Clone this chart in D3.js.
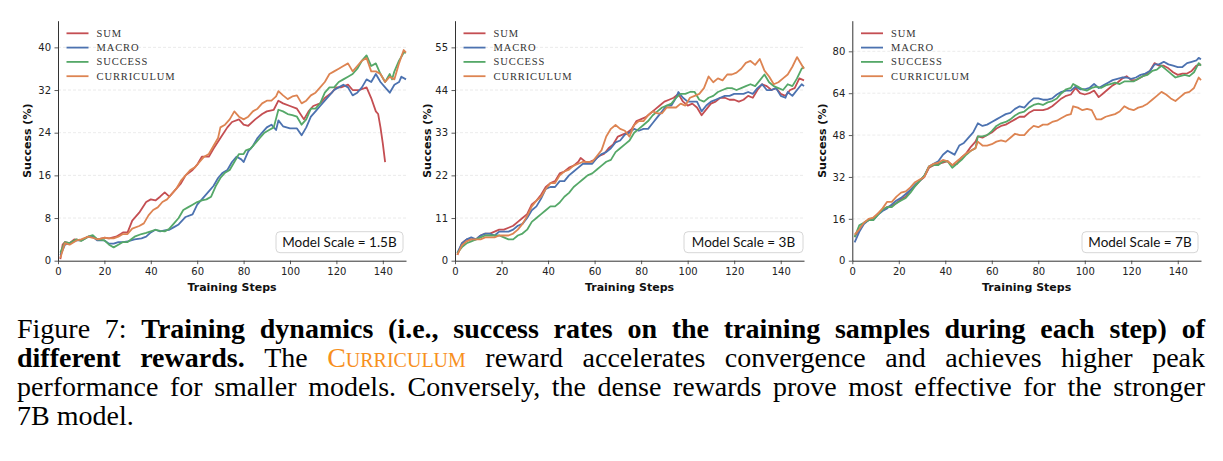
<!DOCTYPE html>
<html>
<head>
<meta charset="utf-8">
<script src="https://cdn.jsdelivr.net/npm/d3@7"></script>
<style>
  body { margin: 0; background: #fff; }
  svg { display: block; }
</style>
</head>
<body>
<svg id="fig" width="1223" height="461"></svg>
<script>
const seriesNames = ["SUM", "MACRO", "SUCCESS", "CURRICULUM"];
const seriesColors = ["#c44e52", "#4c72b0", "#55a868", "#dd8452"];
const xTicks = [0, 20, 40, 60, 80, 100, 120, 140];
const scaleLabels = ["Model Scale = 1.5B", "Model Scale = 3B", "Model Scale = 7B"];

// ---- 1.5B : [step, success %]
const ticks15 = [0, 8, 16, 24, 32, 40];
const sum15 = [[1,0.3],[2,3],[3,3.5],[5,3.3],[7,4],[10,3.8],[13,4.5],[15,4.5],[17,4],[20,4.3],[22,4.2],[25,4.5],[27,5],[28,5.3],[30,5.3],[32,7.5],[35,9],[38,11],[40,11.5],[42,11.3],[44,12],[46,12.8],[48,12],[50,13],[53,14.5],[55,16],[58,17],[60,18],[62,19.5],[65,19.5],[67,21],[70,23],[73,25],[75,26],[78,26.5],[80,25.5],[82,25.3],[85,26.5],[88,27.5],[90,28],[93,28.3],[95,30],[97,29.5],[100,29],[103,28.5],[106,26.5],[108,28],[110,29],[113,29.5],[115,30.5],[118,31.5],[120,32.5],[122,32.5],[125,33],[127,32],[130,32],[133,32.5],[135,30.5],[137,28],[138,27.5],[139,25],[140,22],[141,18.5]];
const macro15 = [[1,1],[3,3],[5,3.3],[8,3.8],[10,3.8],[13,4.5],[15,4.5],[17,3.8],[20,3.8],[22,3.2],[24,3.2],[26,3.5],[28,3.5],[30,3.6],[33,4],[36,4.2],[38,4.5],[40,5.3],[42,5.8],[44,5.5],[46,5.7],[48,5.8],[50,6.3],[52,6.8],[55,8.2],[58,8.7],[60,10.5],[62,11.5],[65,13],[67,14],[69,15.5],[71,16.5],[73,17],[75,18.5],[77,19.5],[79,19],[80,18.5],[82,20.5],[84,21.5],[86,23],[88,24],[90,25],[92,25.5],[94,24.5],[95,26.3],[97,25.2],[100,24.8],[103,24.8],[105,23.5],[107,25],[109,27],[111,28],[113,29],[115,30],[117,31],[119,32],[121,32.5],[123,33],[125,32.5],[127,31],[129,31.5],[131,32.5],[133,34],[135,33.5],[137,35],[139,33.5],[141,32.5],[143,31.5],[145,33],[147,33.5],[148,34.5],[150,34]];
const success15 = [[1,1.5],[3,3.5],[5,3.3],[8,4],[10,3.7],[13,4.5],[15,4.8],[17,4],[20,3.8],[22,3],[24,2.5],[26,3],[28,3.5],[30,3.5],[33,4.5],[36,5],[38,5.2],[40,5.5],[42,5.8],[44,5.6],[46,5.5],[48,6],[50,7],[52,8],[54,9.5],[56,10],[58,10.5],[60,11],[62,11.3],[64,11.5],[66,12],[68,14],[70,15.5],[72,16.5],[74,17],[76,18.5],[78,20],[80,20],[81,20.7],[83,21],[85,22],[87,23],[89,24],[91,24.5],[93,25],[95,28.3],[97,28],[99,27.5],[101,27.3],[103,27],[105,25.5],[107,26.5],[109,28.5],[111,28.5],[113,29.5],[115,31.5],[117,32.5],[119,32.5],[121,33.5],[123,34],[125,34.5],[127,35],[129,36],[131,37.5],[133,38.5],[135,36.5],[137,37],[139,35],[141,33.5],[143,35],[144,34],[145,35.5],[147,37.5],[149,39],[150,39]];
const curriculum15 = [[1,0.5],[3,3.3],[5,3],[8,3.8],[10,4],[13,4.5],[15,4.3],[17,4],[20,4.3],[22,4.2],[24,4.2],[26,4.5],[28,5],[30,5],[32,6],[35,6.5],[37,7],[39,8.5],[41,9.5],[43,10],[45,11],[47,11.5],[49,12.5],[51,13.5],[53,15],[55,16],[57,17],[59,17.5],[61,18.5],[63,19.5],[65,20],[67,21.5],[69,23],[70,25],[72,25.5],[74,26.5],[76,28],[78,27],[80,26.5],[82,27],[84,28],[86,28.5],[88,29.5],[90,30],[92,30],[94,30.8],[95,31.8],[97,31],[99,30.3],[101,30.8],[103,31],[105,29.5],[107,30],[109,31],[111,31.5],[113,32.5],[115,33.5],[117,35],[119,35.5],[121,36],[123,36.5],[125,37],[127,35.5],[129,36.5],[131,37.5],[133,38],[135,35.5],[137,35.5],[139,35],[141,33.5],[143,34.5],[145,34],[147,37],[149,39.5],[150,39]];

// ---- 3B
const ticks3 = [0, 11, 22, 33, 44, 55];
const sum3 = [[1,1.5],[3,4.5],[5,5.5],[7,5.5],[9,5.5],[11,6.5],[13,7],[15,7],[17,7.5],[19,8],[21,8],[23,8.5],[25,9],[27,10],[29,11],[31,12],[33,14.5],[35,15.5],[37,17],[39,19],[41,20],[43,20.5],[45,22.5],[47,23],[49,24],[51,24.5],[53,25.5],[54,26.5],[56,25.5],[58,25.5],[60,26],[62,27],[64,27.5],[66,29],[68,30],[70,32],[72,32.5],[74,33],[76,34],[78,36],[80,36.5],[82,37],[84,38],[86,39],[88,40],[90,41],[92,41.5],[94,42],[96,43],[98,41],[100,40],[102,40.5],[104,39.5],[106,37.5],[108,39],[110,40.5],[112,41],[114,42],[116,42],[118,41.5],[120,41.5],[122,41],[124,41.5],[126,42.5],[128,42],[130,44],[132,45.5],[134,45],[136,44],[138,44.5],[140,43],[142,42.5],[144,44],[146,44.5],[148,47],[150,46.5]];
const macro3 = [[1,2],[3,4.5],[5,5.5],[7,6],[9,5.5],[11,6.5],[13,7],[15,7],[17,6.5],[19,7.5],[21,7.5],[23,7.5],[25,8],[27,9],[29,9.5],[31,11],[33,13],[35,14],[37,16],[39,18.5],[41,19],[43,19],[45,20.5],[47,20.5],[49,22],[51,23],[53,24],[55,25],[57,25],[59,25],[61,26.5],[63,27.5],[65,28],[67,29],[69,30.5],[71,31],[73,32.5],[75,33],[77,34],[79,33.5],[81,34],[83,34],[85,35.5],[87,37],[89,38.5],[91,40],[93,40],[95,42],[96,43.5],[98,42],[100,41],[102,41],[104,41],[106,38.5],[108,40],[110,41],[112,41.5],[114,42],[116,42.5],[118,42.5],[120,43],[122,43],[124,43],[126,43.5],[128,43],[130,44.5],[132,45.5],[134,44],[136,44],[138,44.5],[140,42.5],[142,42],[143,43.5],[145,42.5],[147,44],[149,45.5],[150,45]];
const success3 = [[1,2],[3,3.5],[5,4.5],[7,5],[9,5.5],[11,6],[13,6.5],[15,6.5],[17,6.5],[19,6.5],[21,6],[23,5.5],[25,5.5],[27,6.5],[29,7],[31,8],[33,10],[35,11],[37,12],[39,13],[41,14],[43,14],[45,15],[47,16.5],[49,17.5],[51,19],[53,20],[55,21],[57,22],[59,22.5],[61,23.5],[63,24.5],[65,25.5],[67,26],[69,28],[71,29],[73,30],[75,31],[77,33],[79,34],[81,35],[83,36],[85,37.5],[87,38.5],[89,39.5],[91,40],[93,40.5],[95,42],[97,43],[99,43],[101,43.5],[103,43.5],[105,41.5],[107,41],[109,42],[111,42.5],[113,43.5],[115,44],[117,44.5],[119,44.5],[121,44],[123,44.5],[125,45],[127,45.5],[129,45],[131,46.5],[133,48],[135,46],[137,45],[139,44.5],[141,44],[143,45.5],[145,45],[147,47],[149,49.5],[150,50]];
const curriculum3 = [[1,1.5],[3,4],[5,5],[7,5.5],[9,5.5],[11,5.5],[13,6],[15,6],[17,6],[19,6.5],[21,6.5],[23,6.5],[25,7],[27,8],[29,9.5],[31,11.5],[33,14],[35,15.5],[37,16.5],[39,18.5],[41,20],[43,20],[45,22],[47,23],[49,23.5],[51,24.5],[53,25],[55,25.5],[57,25.5],[59,25.5],[61,27],[63,28.5],[65,32],[67,34],[69,35],[71,34],[73,33.5],[75,32],[77,35],[79,36],[81,36],[83,37.5],[85,38.5],[87,38],[89,38],[91,39.5],[93,39.5],[95,39.5],[97,40.5],[99,40],[101,42],[103,42.5],[105,43],[107,44.5],[109,47.5],[111,46],[113,47],[115,46.5],[117,48],[119,48],[121,48.5],[123,49.5],[125,51],[127,51.5],[129,50.5],[131,52],[133,49],[135,47.5],[137,45.5],[139,46],[141,47],[143,48],[145,50],[147,52.5],[148,51.5],[150,49.5]];

// ---- 7B
const ticks7 = [0, 16, 32, 48, 64, 80];
const sum7 = [[1,9],[3,12],[5,14.5],[7,15.5],[9,16],[11,18],[13,19.5],[15,20.5],[17,21],[19,22],[21,23.5],[23,24.5],[25,27],[27,28.5],[29,30.5],[31,32],[33,35.5],[35,36.5],[37,37],[39,37.5],[41,38],[43,36.5],[45,37],[47,39.5],[49,41],[51,43.5],[53,45.5],[54,47.5],[56,47],[58,48],[60,49],[62,50.5],[64,51.5],[66,52],[68,53],[70,54],[72,55],[74,55],[76,56.5],[78,57.5],[80,57.5],[82,57.5],[84,58],[86,59],[88,60.5],[90,62],[92,63],[94,63.5],[96,66],[98,64],[100,63.5],[102,64],[104,65],[106,62.5],[108,64],[110,65.5],[112,67],[114,68],[116,69.5],[118,70.5],[120,69],[122,69],[124,70],[126,71],[128,72.5],[130,75.5],[132,74.5],[134,74.5],[136,73.5],[138,72],[140,71],[142,71.5],[144,71.5],[146,72.5],[148,74.5],[150,75]];
const macro7 = [[1,7],[3,11],[5,14],[7,15.5],[9,15.5],[11,17.5],[13,19],[15,20],[17,21.5],[19,23],[21,24],[23,25.5],[25,27],[27,29],[29,30.5],[31,32.5],[33,36],[35,37],[37,38],[39,40.5],[41,42],[43,41],[44,40.5],[46,44],[48,45],[50,47],[52,49],[54,52.5],[56,51.5],[58,52],[60,53],[62,54],[64,55],[66,56],[68,56.5],[70,58],[72,59],[74,58.5],[76,60.5],[78,62],[80,62],[82,61.5],[84,61.5],[86,62],[88,63.5],[90,64.5],[92,65],[94,65],[96,66.5],[98,65.5],[100,65.5],[102,66],[104,67.5],[106,66],[108,67],[110,68],[112,69],[114,69.5],[116,70],[118,70],[120,69.5],[122,70],[124,71],[126,71.5],[128,72.5],[130,75],[132,75],[134,76],[136,75],[138,74.5],[140,74],[142,74],[144,75.5],[146,76],[148,76.5],[149,77.5],[150,77]];
const success7 = [[1,9],[3,13.5],[5,14.5],[7,15.5],[9,15.5],[11,17.5],[13,19.5],[15,20.5],[17,20.5],[19,22],[21,23],[23,24],[25,26],[27,28.5],[29,30.5],[31,32.5],[33,36],[35,36.5],[37,36.5],[39,38],[41,38],[43,35.5],[45,37],[47,38.5],[49,40.5],[51,42],[53,43],[54,47.5],[56,47.5],[58,48],[60,49.5],[62,51.5],[64,52.5],[66,53],[68,54],[70,55.5],[72,56.5],[74,57],[76,58.5],[78,59.5],[80,60],[82,59.5],[84,60.5],[86,61],[88,62],[90,64],[92,65.5],[94,66],[95,67.5],[97,66.5],[99,65.5],[101,65],[103,66],[105,66.5],[107,66],[109,67],[111,67.5],[113,68],[115,67.5],[117,68.5],[119,68.5],[121,68.5],[123,69.5],[125,70.5],[127,71],[129,72.5],[131,73],[133,74.5],[135,73],[137,71.5],[139,70],[141,70.5],[143,71],[145,70.5],[147,72],[149,75.5],[150,74.5]];
const curriculum7 = [[1,10],[3,12],[5,14.5],[7,16],[9,16.5],[11,18],[13,20],[15,22.5],[17,22.5],[19,24.5],[21,26],[23,26.5],[25,28],[27,30],[29,31],[31,32],[33,36],[35,37],[37,37.5],[39,38.5],[41,38],[43,36.5],[45,38],[47,39.5],[49,41],[51,42],[53,43],[54,45.5],[56,44],[58,44],[60,44.5],[62,45.5],[64,46],[66,45.5],[68,47],[70,48.5],[72,48],[74,48],[76,50],[78,51.5],[80,51],[82,52],[84,52],[86,53],[88,53.5],[90,54.5],[92,55.5],[94,56],[95,59],[97,58.5],[99,57.5],[101,58],[103,57.5],[105,54],[107,54],[109,55],[111,55.5],[113,56],[115,57],[117,59],[119,58],[121,57.5],[123,58.5],[125,59],[127,60],[129,61.5],[131,63],[133,64.5],[135,63.5],[137,62],[139,61],[141,62.5],[143,64],[145,64.5],[147,66],[149,70],[150,69]];

const panels = [
  { left: 58, right: 406, yMax: 45, ticks: ticks15, data: [sum15, macro15, success15, curriculum15], label: scaleLabels[0], yLabelX: 31, legendX: 66.5, box: [276, 403] },
  { left: 455, right: 804, yMax: 61.875, ticks: ticks3, data: [sum3, macro3, success3, curriculum3], label: scaleLabels[1], yLabelX: 431, legendX: 463.5, box: [684, 803] },
  { left: 852.3, right: 1201, yMax: 91.7, ticks: ticks7, data: [sum7, macro7, success7, curriculum7], label: scaleLabels[2], yLabelX: 826, legendX: 861, box: [1082, 1198] },
];
const plotTop = 20.7, plotBottom = 260.7;

const svg = d3.select("#fig");
svg.append("rect").attr("width", 1223).attr("height", 461).attr("fill", "#fff");

panels.forEach((p) => {
  const g = svg.append("g");
  const x = d3.scaleLinear().domain([0, 150]).range([p.left, p.right]);
  const y = d3.scaleLinear().domain([0, p.yMax]).range([plotBottom, plotTop]);

  g.append("g")
    .selectAll("line")
    .data(p.ticks.filter((t) => t > 0))
    .join("line")
    .attr("x1", p.left).attr("x2", p.right)
    .attr("y1", (t) => y(t)).attr("y2", (t) => y(t))
    .attr("stroke", "#e6e6e6").attr("stroke-width", 0.8).attr("stroke-dasharray", "3,2");

  const xAxis = g.append("g").attr("transform", `translate(0,${plotBottom})`)
    .call(d3.axisBottom(x).tickValues(xTicks).tickSize(3.5).tickSizeOuter(0).tickPadding(3.5));
  const yAxis = g.append("g").attr("transform", `translate(${p.left},0)`)
    .call(d3.axisLeft(y).tickValues(p.ticks).tickSize(3.5).tickSizeOuter(0).tickPadding(3.5));
  [xAxis, yAxis].forEach((a) => {
    a.selectAll("path.domain").attr("stroke", "#333").attr("stroke-width", 1);
    a.selectAll(".tick line").attr("stroke", "#333").attr("stroke-width", 0.8);
    a.selectAll(".tick text").attr("fill", "#222").attr("font-family", "DejaVu Sans, sans-serif").attr("font-size", 10);
  });

  g.append("text")
    .attr("x", (p.left + p.right) / 2).attr("y", 291)
    .attr("text-anchor", "middle")
    .attr("font-family", "DejaVu Sans, sans-serif").attr("font-weight", "bold").attr("font-size", 11)
    .attr("fill", "#111")
    .text("Training Steps");
  g.append("text")
    .attr("transform", `translate(${p.yLabelX},${(plotTop + plotBottom) / 2}) rotate(-90)`)
    .attr("text-anchor", "middle")
    .attr("font-family", "DejaVu Sans, sans-serif").attr("font-weight", "bold").attr("font-size", 11)
    .attr("fill", "#111")
    .text("Success (%)");

  const line = d3.line().x((d) => x(d[0])).y((d) => y(d[1]));
  p.data.forEach((values, i) => {
    g.append("path")
      .datum(values)
      .attr("d", line)
      .attr("fill", "none")
      .attr("stroke", seriesColors[i])
      .attr("stroke-width", 1.8)
      .attr("stroke-linejoin", "round");
  });

  const legend = g.append("g");
  seriesNames.forEach((name, i) => {
    const ly = 33.3 + i * 14.3;
    legend.append("line")
      .attr("x1", p.legendX).attr("x2", p.legendX + 22)
      .attr("y1", ly).attr("y2", ly)
      .attr("stroke", seriesColors[i]).attr("stroke-width", 1.8);
    legend.append("text")
      .attr("x", p.legendX + 30).attr("y", ly + 3.5)
      .attr("font-family", "Liberation Serif, serif").attr("font-size", 10.5)
      .style("letter-spacing", "0.9px")
      .attr("fill", "#333")
      .text(name);
  });

  g.append("rect")
    .attr("x", p.box[0]).attr("y", 231.7)
    .attr("width", p.box[1] - p.box[0]).attr("height", 21)
    .attr("rx", 4)
    .attr("fill", "#fff").attr("fill-opacity", 0.8)
    .attr("stroke", "#cccccc").attr("stroke-width", 0.8);
  g.append("text")
    .attr("x", (p.box[0] + p.box[1]) / 2).attr("y", 246.7)
    .attr("text-anchor", "middle")
    .attr("font-family", "Lato, sans-serif").attr("font-size", 13.5)
    .attr("fill", "#111")
    .text(p.label);
});

// caption, justified by hand
const captionLines = [
  [["Figure 7:", "n"], ["Training dynamics (i.e., success rates on the training samples during each step) of", "b"]],
  [["different rewards.", "b"], ["The", "n"], ["Curriculum", "sc"], ["reward accelerates convergence and achieves higher peak", "n"]],
  [["performance for smaller models. Conversely, the dense rewards prove most effective for the stronger", "n"]],
  [["7B model.", "n"]],
];
const capLeft = 17, capRight = 1205, capBase = 338, capStep = 29, capSize = 28;

captionLines.forEach((segs, li) => {
  const words = [];
  segs.forEach(([txt, style]) => txt.split(" ").forEach((w) => words.push({ w, style })));
  const t = svg.append("text")
    .attr("y", capBase + li * capStep)
    .attr("font-family", "Liberation Serif, Times New Roman, serif")
    .attr("font-size", capSize)
    .attr("fill", "#000");
  const spans = words.map((d) => {
    const s = t.append("tspan").text(d.w);
    if (d.style === "b") s.attr("font-weight", "bold");
    if (d.style === "sc") s.attr("font-variant", "small-caps").attr("fill", "#f7901e");
    return s;
  });
  const widths = spans.map((s) => s.node().getComputedTextLength());
  const total = d3.sum(widths);
  const last = li === captionLines.length - 1;
  const gap = last ? capSize * 0.25 : (capRight - capLeft - total) / (words.length - 1);
  let cx = capLeft;
  spans.forEach((s, i) => {
    s.attr("x", cx);
    cx += widths[i] + gap;
  });
});
</script>
</body>
</html>
